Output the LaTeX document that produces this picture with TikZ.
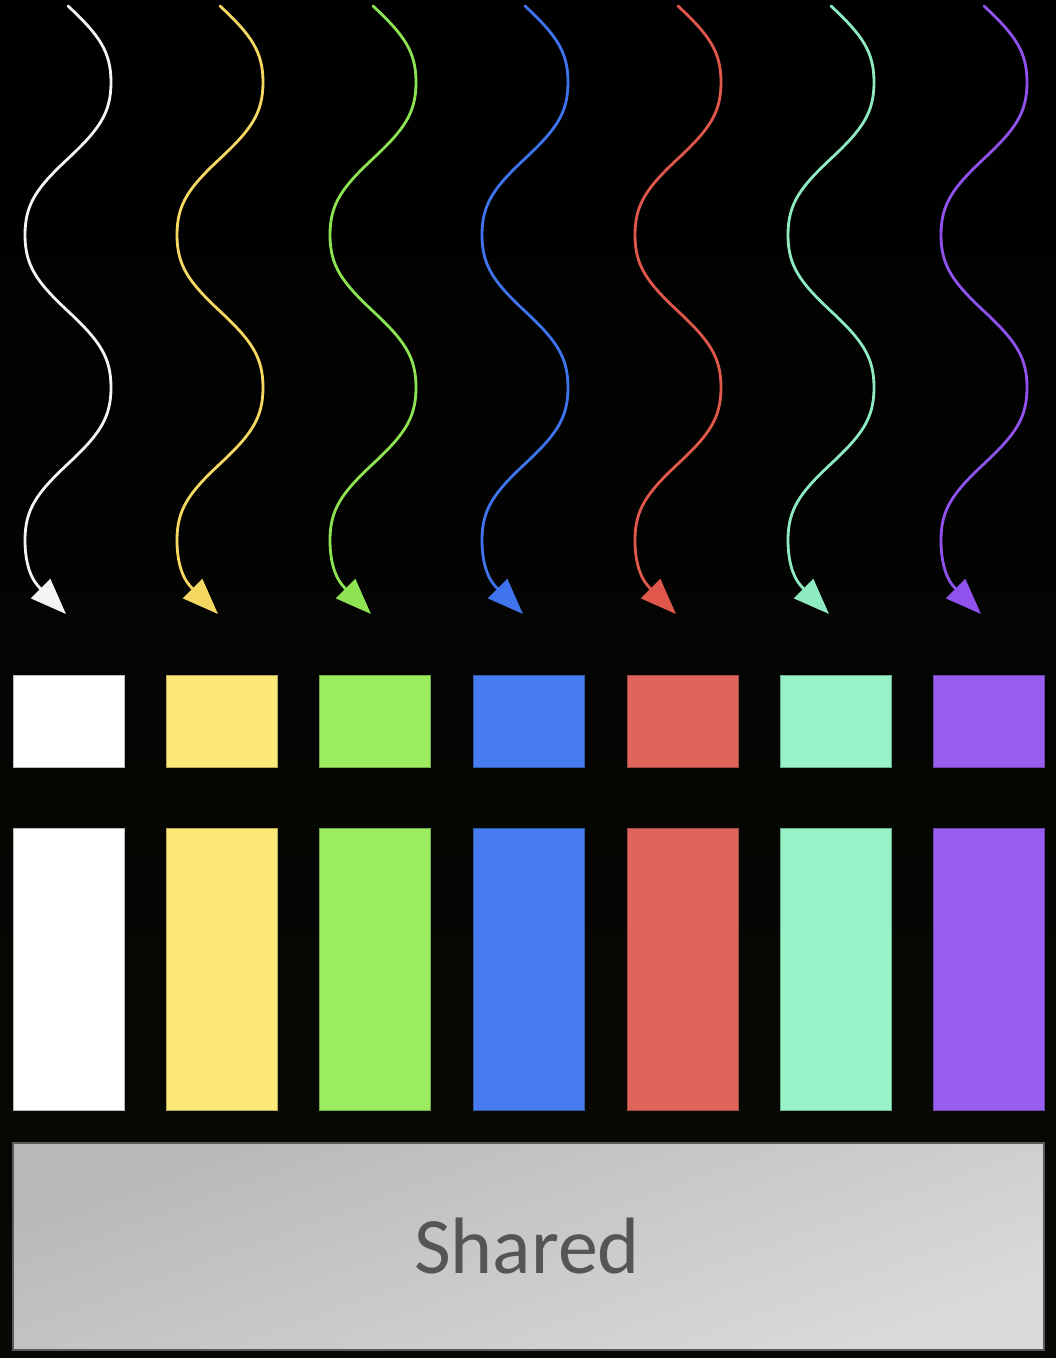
\documentclass[tikz,border=0pt]{standalone}
\usepackage{fontspec}
\newfontfamily\sharedfont{Carlito}
\usetikzlibrary{arrows.meta}
\definecolor{cWhite}{HTML}{FFFFFF}
\definecolor{cYellow}{HTML}{FDE978}
\definecolor{cGreen}{HTML}{9BED5F}
\definecolor{cBlue}{HTML}{467CF0}
\definecolor{cRed}{HTML}{DF655B}
\definecolor{cMint}{HTML}{98F3C9}
\definecolor{cPurple}{HTML}{985EEF}
\definecolor{wWhite}{HTML}{F4F4F4}
\definecolor{wYellow}{HTML}{F5D862}
\definecolor{wGreen}{HTML}{8DE352}
\definecolor{wBlue}{HTML}{3F74EE}
\definecolor{wRed}{HTML}{E0574C}
\definecolor{wMint}{HTML}{8EEBC1}
\definecolor{wPurple}{HTML}{9052EC}
\definecolor{bgBottom}{HTML}{080804}
\definecolor{shadeA}{HTML}{B8B8B8}
\definecolor{shadeB}{HTML}{DADADA}
\definecolor{textGray}{HTML}{555555}
\tikzset{
  wavestyle/.style={line width=2.8pt, line cap=round, -{Triangle[length=36pt,width=27pt]}},
  boxstyle/.style={rectangle, minimum width=111pt, inner sep=0pt, line width=1pt},
}
\begin{document}
\begin{tikzpicture}[x=1pt,y=-1pt]
\useasboundingbox (0,0) rectangle (1056,1358);
\shade[top color=black, bottom color=bgBottom] (0,0) rectangle (1056,1358);
% shared box
\node[draw={rgb,255:red,90;green,90;blue,90}, line width=1.2pt, rectangle, inner sep=0pt,
      minimum width=1031pt, minimum height=207pt,
      top color=shadeA, bottom color=shadeB, shading angle=20]
  (shared) at (528.5,1246.5) {};
\node[text=textGray, font=\sharedfont\fontsize{80}{96}\selectfont] (sharedlabel) at (527,1246) {Shared};
% columns
\foreach \i/\bx/\sx/\tx/\c/\w in {
  1/68.5/68/66/cWhite/wWhite,
  2/221.5/220/218/cYellow/wYellow,
  3/375/373/371/cGreen/wGreen,
  4/528.5/525/523/cBlue/wBlue,
  5/682.5/678/676/cRed/wRed,
  6/835.5/831/829/cMint/wMint,
  7/989/984/981/cPurple/wPurple} {
  \node[boxstyle, fill=\c, draw=\c!72!black, minimum height=92pt] (small\i) at (\bx,721) {};
  \node[boxstyle, fill=\c, draw=\c!72!black, minimum height=282pt] (tall\i) at (\bx,969) {};
  \coordinate (s\i) at (\sx,6);
  \coordinate (t\i) at (\tx,614);
  \draw[wavestyle, draw=\w] (s\i)
     .. controls +(31,29) and +(0,-31) .. ++(43,76.3)
     .. controls +(0,31) and +(31,-29) .. ++(-43,76.3)
     .. controls +(-31,29) and +(0,-31) .. ++(-43,76.3)
     .. controls +(0,31) and +(-31,-29) .. ++(43,76.3)
     .. controls +(31,29) and +(0,-31) .. ++(43,76.3)
     .. controls +(0,31) and +(31,-29) .. ++(-43,76.3)
     .. controls +(-31,29) and +(0,-31) .. ++(-43,76.3)
     .. controls +(0,36) and +(-27,-27) .. (t\i);
}
\end{tikzpicture}
\end{document}
